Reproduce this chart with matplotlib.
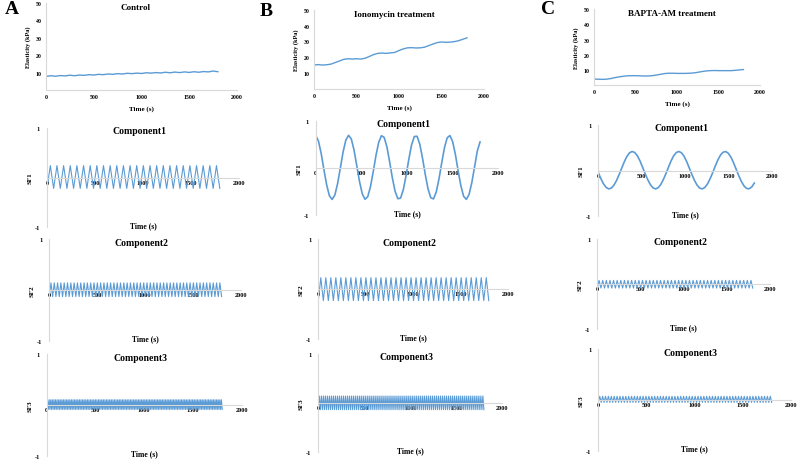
import numpy as np
import matplotlib
matplotlib.use('Agg')
import matplotlib.pyplot as plt

plt.rcParams['font.family'] = ['Liberation Serif', 'DejaVu Serif']
plt.rcParams['font.weight'] = 'bold'
plt.rcParams['axes.unicode_minus'] = False

W, H = 800, 460
BLUE = '#5b9bd5'
GRAY = '#d9d9d9'

# Elasticity traces (kPa), sampled every 50 s
time_el = [0, 50, 100, 150, 200, 250, 300, 350, 400, 450, 500, 550, 600, 650, 700,
           750, 800, 850, 900, 950, 1000, 1050, 1100, 1150, 1200, 1250, 1300, 1350,
           1400, 1450, 1500, 1550, 1600, 1650, 1700, 1750, 1800]
control_el = [7.8, 8.2, 7.9, 8.3, 8.1, 8.5, 8.2, 8.6, 8.4, 8.8, 8.6, 9.0, 8.8, 9.2, 9.0,
              9.4, 9.2, 9.6, 9.4, 9.7, 9.5, 9.9, 9.7, 10.0, 9.8, 10.2, 9.9, 10.3, 10.0,
              10.4, 10.1, 10.5, 10.2, 10.6, 10.4, 10.9, 10.5]
iono_el = [15.0, 15.3, 15.0, 15.2, 15.6, 16.6, 17.6, 18.6, 19.0, 18.8, 19.0, 18.8, 19.3,
           20.4, 21.6, 22.4, 22.6, 22.4, 22.7, 23.0, 24.2, 25.2, 25.9, 26.0, 25.8, 25.9,
           26.3, 27.3, 28.3, 29.2, 29.6, 29.4, 29.5, 29.8, 30.4, 31.3, 32.2]
bapta_el = [4.1, 4.0, 3.9, 4.0, 4.4, 5.0, 5.5, 5.9, 6.2, 6.3, 6.3, 6.2, 6.1, 6.1, 6.3,
            6.7, 7.2, 7.7, 7.9, 7.9, 7.8, 7.8, 7.8, 7.9, 8.1, 8.5, 9.0, 9.4, 9.6, 9.7,
            9.6, 9.6, 9.6, 9.6, 9.8, 10.1, 10.3]

# Component1 for B and C, sampled every 30 s
time_c1 = list(range(0, 1801, 30))
iono_sf1 = [0.687, 0.570, 0.305, -0.037, -0.361, -0.592, -0.670, -0.575, -0.332, -0.002,
            0.337, 0.589, 0.690, 0.612, 0.377, 0.045, -0.291, -0.550, -0.667, -0.612,
            -0.399, -0.083, 0.262, 0.541, 0.682, 0.646, 0.444, 0.126, -0.217, -0.500,
            -0.655, -0.640, -0.460, -0.162, 0.183, 0.487, 0.664, 0.670, 0.503, 0.206,
            -0.139, -0.443, -0.633, -0.659, -0.515, -0.238, 0.103, 0.425, 0.637, 0.685,
            0.556, 0.284, -0.061, -0.380, -0.602, -0.669, -0.563, -0.312, 0.020, 0.357,
            0.55]
bapta_sf1 = [-0.041, -0.176, -0.289, -0.367, -0.399, -0.383, -0.319, -0.217, -0.087, 0.055,
             0.196, 0.312, 0.390, 0.420, 0.398, 0.328, 0.217, 0.079, -0.065, -0.196,
             -0.305, -0.375, -0.400, -0.375, -0.305, -0.196, -0.065, 0.079, 0.217, 0.328,
             0.398, 0.420, 0.390, 0.312, 0.196, 0.055, -0.087, -0.217, -0.319, -0.383,
             -0.399, -0.367, -0.289, -0.176, -0.041, 0.104, 0.238, 0.343, 0.405, 0.418,
             0.380, 0.295, 0.173, 0.031, -0.110, -0.236, -0.333, -0.389, -0.397, -0.357,
             -0.272]

# fast components: number of cycles over 0-1800 s, peak level, trough level
control_sf1 = (26, 0.24, -0.22)
control_sf2 = (52, 0.14, -0.13)
control_sf3 = (110, 0.10, -0.09)
iono_sf2 = (34, 0.23, -0.23)
iono_sf3 = (82, 0.14, -0.14)
bapta_sf2 = (43, 0.08, -0.09)
bapta_sf3 = (60, 0.07, -0.05)

top_titles = ['Control', 'Ionomycin treatment', 'BAPTA-AM treatment']
x_ticks = [0, 500, 1000, 1500, 2000]


def box(x0, x1, yt, yb):
    return [x0 / W, 1 - yb / H, (x1 - x0) / W, (yb - yt) / H]


def fast_wave(spec):
    n, hi, lo = spec
    t = np.linspace(0, 1800, 2 * n + 1)
    v = np.where(np.arange(2 * n + 1) % 2 == 0, lo, hi)
    return t, v


fig = plt.figure(figsize=(8, 4.6), dpi=100)

# top elasticity panels
top_boxes = [box(46, 237, 4, 91), box(314, 484, 10.7, 89.8), box(594, 760, 10, 86.3)]
for bx, title, vals in zip(top_boxes, top_titles, [control_el, iono_el, bapta_el]):
    ax = fig.add_axes(bx)
    ax.plot(time_el, vals, color=BLUE, lw=1.0)
    ax.set_xlim(0, 2000)
    ax.set_ylim(0, 50)
    ax.set_xticks(x_ticks)
    ax.set_yticks([10, 20, 30, 40, 50])
    ax.tick_params(length=0, labelsize=4.2, pad=3)
    for s in ['top', 'right']:
        ax.spines[s].set_visible(False)
    for s in ['left', 'bottom']:
        ax.spines[s].set_color(GRAY)
    hpx = bx[3] * H
    wpx = bx[2] * W
    ax.text(0.5, -18 / hpx, 'Time (s)', transform=ax.transAxes, ha='center',
            va='center', fontsize=5, fontweight='bold')
    ax.text(-18 / wpx, 0.5, 'Elasticity (kPa)', transform=ax.transAxes, ha='center',
            va='center', rotation=90, fontsize=4.5, fontweight='bold')
    ax.text(0.47, 0.95, title, transform=ax.transAxes, ha='center', va='center',
            fontsize=6.5, fontweight='bold')

# component panels: rows = component, columns = condition
comp_boxes = [
    [box(47, 239, 129, 228), box(315.7, 498.3, 121.7, 216), box(598.3, 771.7, 126, 217.3)],
    [box(49.3, 240.7, 240.3, 341.7), box(318.3, 507.7, 240.3, 340), box(597.3, 770, 240, 330)],
    [box(46.7, 241.7, 355, 456.7), box(318.3, 502.3, 355, 452.7), box(598.3, 791, 350, 451.7)],
]
comp_data = [
    [fast_wave(control_sf1), (time_c1, iono_sf1), (time_c1, bapta_sf1)],
    [fast_wave(control_sf2), fast_wave(iono_sf2), fast_wave(bapta_sf2)],
    [fast_wave(control_sf3), fast_wave(iono_sf3), fast_wave(bapta_sf3)],
]
for r in range(3):
    for c in range(3):
        bx = comp_boxes[r][c]
        t, v = comp_data[r][c]
        ax = fig.add_axes(bx)
        ax.plot(t, v, color=BLUE, lw=1.2 if (r == 0 and c > 0) else 0.8)
        ax.set_xlim(0, 2000)
        ax.set_ylim(-1, 1)
        ax.set_xticks(x_ticks)
        ax.set_yticks([-1, 1])
        ax.spines['bottom'].set_position(('data', 0))
        for s in ['top', 'right']:
            ax.spines[s].set_visible(False)
        for s in ['left', 'bottom']:
            ax.spines[s].set_color(GRAY)
        ax.tick_params(length=0, labelsize=4.5, pad=1.5)
        ax.tick_params(axis='y', pad=5)
        wpx = bx[2] * W
        ax.text(0.48, 0.97, 'Component%d' % (r + 1), transform=ax.transAxes,
                ha='center', va='center', fontsize=7, fontweight='bold')
        ax.text(0.5, 0.02, 'Time (s)', transform=ax.transAxes, ha='center',
                va='center', fontsize=5.5, fontweight='bold')
        ax.text(-17 / wpx, 0.5, 'SF%d' % (r + 1), transform=ax.transAxes, ha='center',
                va='center', rotation=90, fontsize=5, fontweight='bold')

for label, x, y in [('A', 12, 10), ('B', 266, 12), ('C', 548, 10)]:
    fig.text(x / W, 1 - y / H, label, ha='center', va='center', fontsize=14,
             fontweight='bold')

fig.savefig('out.png', dpi=100)
